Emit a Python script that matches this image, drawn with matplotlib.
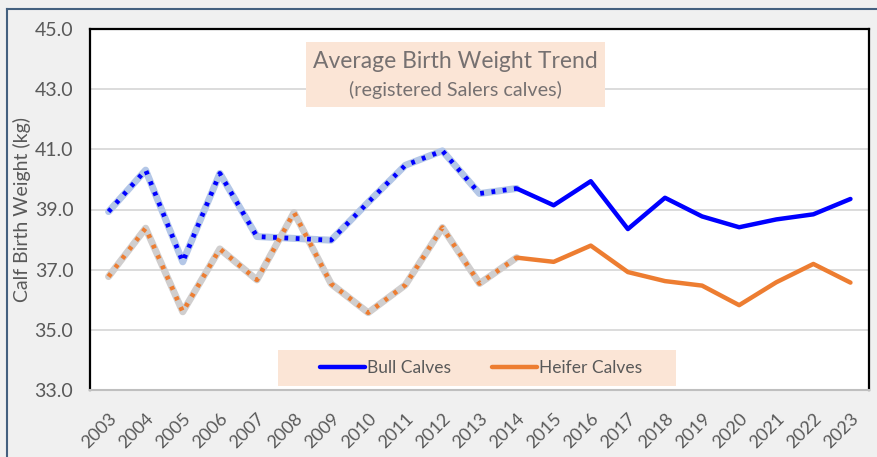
import matplotlib
matplotlib.use("Agg")
import matplotlib.pyplot as plt
from matplotlib.patches import Rectangle
from matplotlib.lines import Line2D

plt.rcParams['font.family'] = ['Lato', 'DejaVu Sans']

years = [str(y) for y in range(2003, 2024)]
bull = [38.93, 40.31, 37.26, 40.20, 38.10, 38.04, 37.98, 39.24, 40.47, 40.95, 39.53,
        39.70, 39.14, 39.94, 38.35, 39.39, 38.77, 38.41, 38.67, 38.84, 39.35]
heifer = [36.77, 38.38, 35.60, 37.69, 36.66, 38.90, 36.53, 35.57, 36.49, 38.40, 36.54,
          37.40, 37.26, 37.80, 36.92, 36.62, 36.47, 35.82, 36.58, 37.19, 36.57]
split_year = "2014"

text_gray = '#595959'
title_gray = '#767171'
panel_fill = '#fbe5d6'

fig = plt.figure(figsize=(8.77, 4.57), dpi=100, facecolor='#f0f0f0')
W, H = 877, 457

# outer chart frame
fig.add_artist(Line2D([7 / W, 7 / W], [0, 1 - 9 / H], color='#44607f', lw=1.5,
                      transform=fig.transFigure))
fig.add_artist(Line2D([7 / W, 1], [1 - 9 / H, 1 - 9 / H], color='#44607f', lw=1.5,
                      transform=fig.transFigure))

ax = fig.add_axes([90 / W, 1 - 390 / H, (869 - 90) / W, (390 - 29) / H])
ax.set_facecolor('white')

x = list(range(len(years)))
k = years.index(split_year)

# earlier years: light wide stroke with short coloured dashes on top
ax.plot(x[:k + 1], bull[:k + 1], color='#b4c7e7', lw=5.0, solid_capstyle='round',
        solid_joinstyle='round', zorder=3)
ax.plot(x[:k + 1], bull[:k + 1], color='#0000ff', lw=3.4, linestyle=(0, (0.8, 1.6)),
        dash_capstyle='butt', zorder=4)
ax.plot(x[:k + 1], heifer[:k + 1], color='#d0cece', lw=5.0, solid_capstyle='round',
        solid_joinstyle='round', zorder=3)
ax.plot(x[:k + 1], heifer[:k + 1], color='#ed7d31', lw=3.4, linestyle=(0, (0.8, 1.6)),
        dash_capstyle='butt', zorder=4)

# recent years: solid lines
ax.plot(x[k:], bull[k:], color='#0000ff', lw=3.2, solid_capstyle='round',
        solid_joinstyle='round', zorder=3)
ax.plot(x[k:], heifer[k:], color='#ed7d31', lw=3.2, solid_capstyle='round',
        solid_joinstyle='round', zorder=3)

ax.set_xlim(-0.5, len(years) - 0.5)
ax.set_ylim(33, 45)
yt = [33, 35, 37, 39, 41, 43, 45]
ax.set_yticks(yt)
ax.set_yticklabels([f"{v:.1f}" for v in yt])
ax.set_xticks(x)
ax.set_xticklabels(years, rotation=45, ha='right', va='top', rotation_mode='anchor')
ax.tick_params(axis='both', length=0, colors=text_gray)
ax.tick_params(axis='y', pad=12, labelsize=14)
ax.tick_params(axis='x', pad=15, labelsize=13)

ax.grid(axis='y', color='#d9d9d9', lw=1.3, zorder=0)
ax.set_axisbelow(True)
for side in ['left', 'top', 'right']:
    ax.spines[side].set_color('black')
    ax.spines[side].set_linewidth(1.6)
ax.spines['bottom'].set_color('#bfbfbf')
ax.spines['bottom'].set_linewidth(1.5)

fig.text(22 / W, 1 - 210 / H, 'Calf Birth Weight (kg)', rotation=90, ha='center',
         va='center', color=text_gray, fontsize=14)

# title panel
fig.add_artist(Rectangle((306 / W, 1 - 107 / H), (605 - 306) / W, (107 - 42) / H,
                         transform=fig.transFigure, facecolor=panel_fill,
                         edgecolor='none', zorder=5))
fig.text(455 / W, 1 - 62 / H, 'Average Birth Weight Trend', ha='center', va='center',
         color=title_gray, fontsize=16.5, zorder=6)
fig.text(455 / W, 1 - 90 / H, '(registered Salers calves)', ha='center', va='center',
         color=title_gray, fontsize=14.2, zorder=6)

# legend panel
fig.add_artist(Rectangle((278 / W, 1 - 386 / H), (676 - 278) / W, (386 - 350) / H,
                         transform=fig.transFigure, facecolor=panel_fill,
                         edgecolor='none', zorder=5))
handles = [Line2D([], [], color='#0000ff', lw=3.2, solid_capstyle='round'),
           Line2D([], [], color='#ed7d31', lw=3.2, solid_capstyle='round')]
leg = fig.legend(handles, ['Bull Calves', 'Heifer Calves'], loc='center',
                 bbox_to_anchor=(481 / W, 1 - 368 / H), ncol=2, frameon=False,
                 fontsize=12.5, handlelength=2.6, handletextpad=0.1,
                 columnspacing=2.35, labelcolor=text_gray)
leg.set_zorder(6)

fig.savefig('out.png', dpi=100, facecolor=fig.get_facecolor())
